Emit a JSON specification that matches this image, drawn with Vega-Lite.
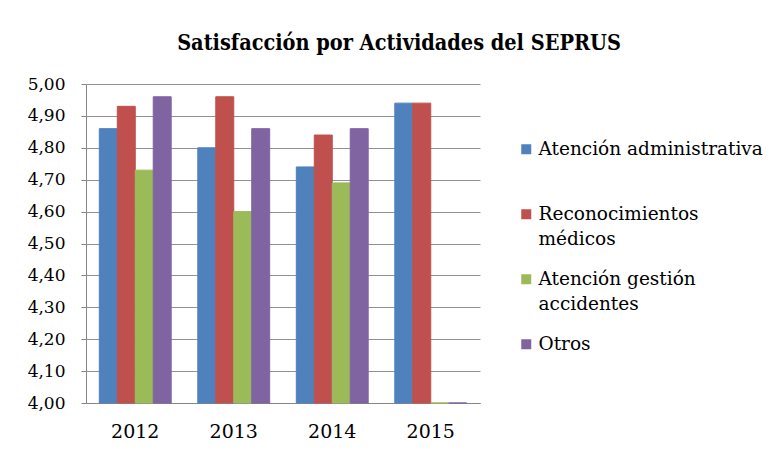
{
  "$schema": "https://vega.github.io/schema/vega-lite/v6.json",
  "width": 394,
  "height": 319,
  "autosize": {"type": "none"},
  "padding": {"left": 86, "top": 84, "right": 291, "bottom": 51},
  "background": "white",
  "title": {
    "text": "Satisfacción por Actividades del SEPRUS",
    "font": "DejaVu Serif Condensed",
    "fontSize": 21.5,
    "fontWeight": "bold",
    "color": "#000000",
    "anchor": "middle",
    "frame": "group",
    "dx": 116,
    "offset": 21
  },
  "data": {
    "values": [
      {"year": "2012", "serie": "Atención administrativa", "value": 4.86},
      {"year": "2012", "serie": "Reconocimientos médicos", "value": 4.93},
      {"year": "2012", "serie": "Atención gestión accidentes", "value": 4.73},
      {"year": "2012", "serie": "Otros", "value": 4.96},
      {"year": "2013", "serie": "Atención administrativa", "value": 4.80},
      {"year": "2013", "serie": "Reconocimientos médicos", "value": 4.96},
      {"year": "2013", "serie": "Atención gestión accidentes", "value": 4.60},
      {"year": "2013", "serie": "Otros", "value": 4.86},
      {"year": "2014", "serie": "Atención administrativa", "value": 4.74},
      {"year": "2014", "serie": "Reconocimientos médicos", "value": 4.84},
      {"year": "2014", "serie": "Atención gestión accidentes", "value": 4.69},
      {"year": "2014", "serie": "Otros", "value": 4.86},
      {"year": "2015", "serie": "Atención administrativa", "value": 4.94},
      {"year": "2015", "serie": "Reconocimientos médicos", "value": 4.94},
      {"year": "2015", "serie": "Atención gestión accidentes", "value": 4.00},
      {"year": "2015", "serie": "Otros", "value": 4.00}
    ]
  },
  "mark": {"type": "bar", "strokeWidth": 1},
  "encoding": {
    "x": {
      "field": "year",
      "type": "nominal",
      "scale": {"paddingInner": 0.27, "paddingOuter": 0.135},
      "axis": {
        "title": null,
        "labelAngle": 0,
        "labelFont": "DejaVu Serif",
        "labelFontSize": 19,
        "labelColor": "#000000",
        "labelPadding": 19,
        "domainColor": "#868686",
        "ticks": false,
        "grid": false
      }
    },
    "xOffset": {
      "field": "serie",
      "type": "nominal",
      "sort": ["Atención administrativa", "Reconocimientos médicos", "Atención gestión accidentes", "Otros"],
      "scale": {"paddingInner": 0, "paddingOuter": 0}
    },
    "y": {
      "field": "value",
      "type": "quantitative",
      "scale": {"domain": [4, 5], "zero": false, "nice": false},
      "axis": {
        "title": null,
        "values": [4.0, 4.1, 4.2, 4.3, 4.4, 4.5, 4.6, 4.7, 4.8, 4.9, 5.0],
        "labelExpr": "replace(format(datum.value, '.2f'), '.', ',')",
        "labelFont": "DejaVu Serif",
        "labelFontSize": 17,
        "labelColor": "#000000",
        "labelPadding": 16,
        "tickSize": 5,
        "tickColor": "#868686",
        "domainColor": "#868686",
        "gridColor": "#868686",
        "gridOpacity": 0.9
      }
    },
    "y2": {"datum": 4},
    "color": {
      "field": "serie",
      "type": "nominal",
      "scale": {
        "domain": ["Atención administrativa", "Reconocimientos médicos", "Atención gestión accidentes", "Otros"],
        "range": ["#4F81BD", "#C0504D", "#9BBB59", "#8064A2"]
      },
      "legend": {
        "title": null,
        "orient": "none",
        "legendX": 431,
        "legendY": 56,
        "padding": 0,
        "symbolType": "square",
        "symbolSize": 100,
        "symbolStrokeWidth": 0,
        "labelFont": "DejaVu Serif",
        "labelFontSize": 18.5,
        "labelColor": "#000000",
        "labelOffset": 3,
        "labelLimit": 300,
        "labelBaseline": "middle",
        "rowPadding": 21,
        "labelExpr": "datum.label == 'Reconocimientos médicos' ? ['Reconocimientos', 'médicos'] : datum.label == 'Atención gestión accidentes' ? ['Atención gestión', 'accidentes'] : [datum.label, '']"
      }
    },
    "stroke": {
      "field": "serie",
      "type": "nominal",
      "scale": {
        "domain": ["Atención administrativa", "Reconocimientos médicos", "Atención gestión accidentes", "Otros"],
        "range": ["#4F81BD", "#C0504D", "#9BBB59", "#8064A2"]
      },
      "legend": null
    }
  },
  "config": {
    "view": {"stroke": null},
    "style": {"guide-label": {"lineHeight": 25}}
  }
}
